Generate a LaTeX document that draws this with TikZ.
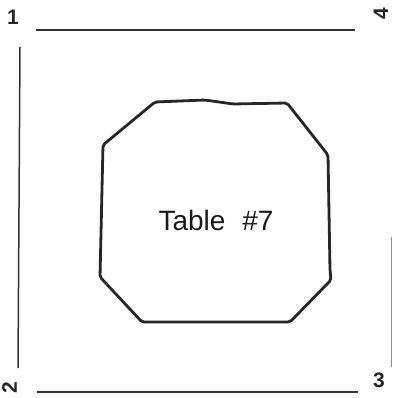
\documentclass[tikz,border=0pt]{standalone}
\usepackage{fontspec}
\setmainfont{Liberation Sans}
\usetikzlibrary{positioning}
\tikzstyle{corner}=[font=\fontsize{21}{25}\selectfont\bfseries,text=black!85,inner sep=0pt]
\tikzstyle{side}=[draw=black!80,line width=1.5pt]
\tikzstyle{tbl}=[draw=black!85,line width=2.8pt,line join=round,rounded corners=2pt]

\begin{document}
\begin{tikzpicture}[x=1pt,y=-1pt]
  \useasboundingbox (0,0) rectangle (392,398);
  % corner numbers
  \node[corner] (n1) at (13,17) {1};
  \node[corner,rotate=90] (n4) at (381,14) {4};
  \node[corner,rotate=90] (n2) at (9.5,388) {2};
  \node[corner] (n3) at (379,380) {3};
  % sides of the square
  \coordinate (tl) at (36,30);
  \coordinate (tr) at (355,30);
  \coordinate (lt) at (20,47);
  \coordinate (lb) at (18,368);
  \coordinate (bl) at (37,392);
  \coordinate (br) at (358,392);
  \coordinate (rt) at (391.5,237);
  \coordinate (rb) at (391.5,367);
  \draw[side] (tl) -- (tr);
  \draw[side] (lt) -- (lb);
  \draw[side] (bl) -- (br);
  \draw[side,draw=black!45,line width=1pt] (rt) -- (rb);
  % the table
  \draw[tbl] (155,102) -- (205,100) -- (233,104) -- (287,103) -- (328,155)
    -- (330,270) -- (331,280) -- (290,322) -- (142,322) -- (100,277)
    -- (103,145) -- cycle;
  \node[font=\fontsize{28}{33}\selectfont,text=black!90] (table) at (216,220) {Table\hspace{0.6em}\#7};
\end{tikzpicture}
\end{document}
